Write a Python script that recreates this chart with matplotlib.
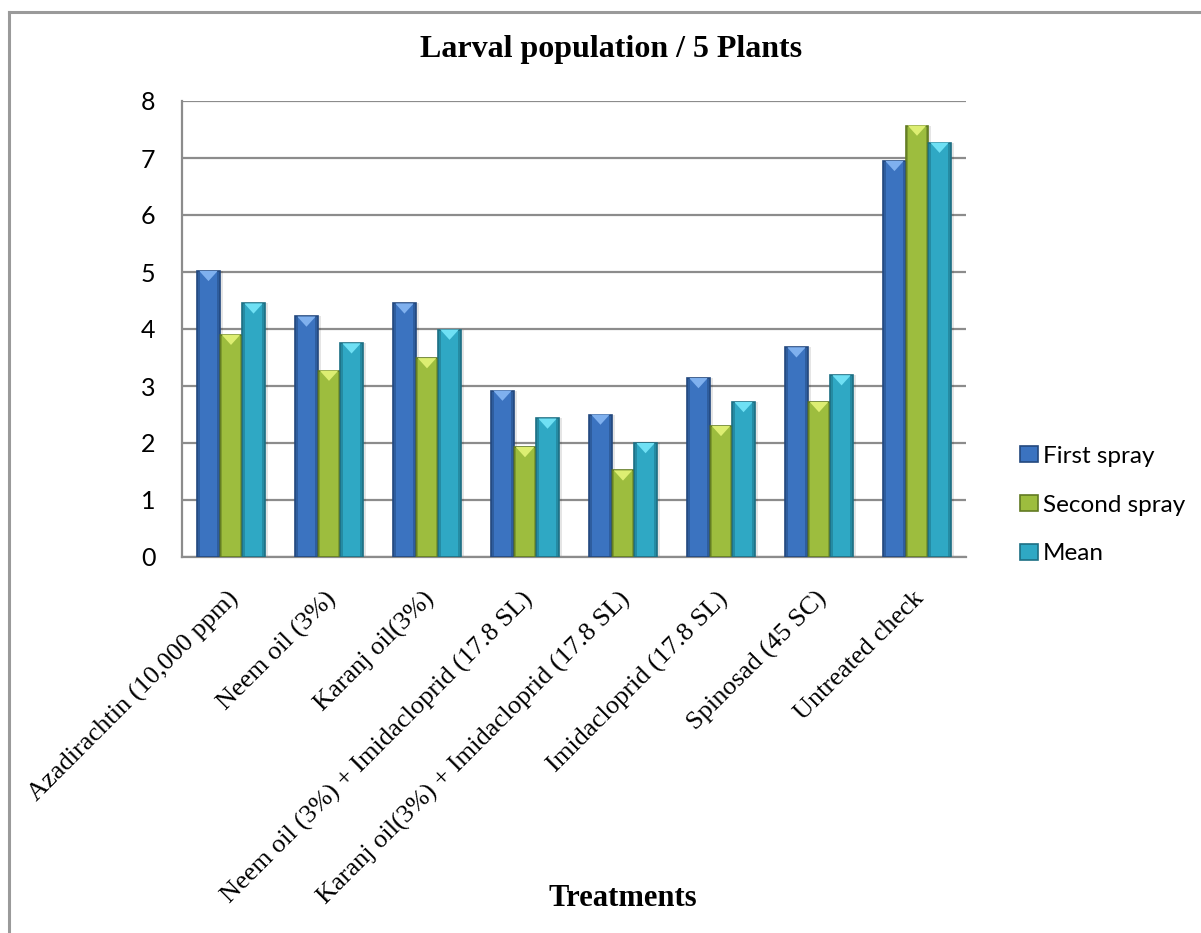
import matplotlib
matplotlib.use("Agg")
import matplotlib.pyplot as plt
import numpy as np
from matplotlib.patches import Polygon, Patch
from matplotlib.lines import Line2D
import matplotlib.transforms as mtransforms

categories = [
    "Azadirachtin (10,000 ppm)",
    "Neem oil (3%)",
    "Karanj oil(3%)",
    "Neem oil (3%) + Imidacloprid (17.8 SL)",
    "Karanj oil(3%) + Imidacloprid (17.8 SL)",
    "Imidacloprid (17.8 SL)",
    "Spinosad (45 SC)",
    "Untreated check",
]
first_spray = [5.02, 4.22, 4.45, 2.92, 2.50, 3.14, 3.68, 6.95]
second_spray = [3.90, 3.27, 3.49, 1.93, 1.52, 2.30, 2.72, 7.57]
mean_vals = [4.45, 3.75, 3.99, 2.43, 2.00, 2.72, 3.19, 7.27]
series_names = ["First spray", "Second spray", "Mean"]
yticks = [0, 1, 2, 3, 4, 5, 6, 7, 8]

face = ["#3B73C0", "#9DBD3E", "#2FA8C4"]
edge = ["#23487E", "#617A22", "#1D6F84"]
tri = ["#7FB0EE", "#DDEE72", "#6FE0F4"]

W, H = 1201, 933
fig = plt.figure(figsize=(W / 100, H / 100), dpi=100)
fig.patch.set_facecolor("white")

ax = fig.add_axes([182 / W, 1 - 557 / H, (966 - 182) / W, (557 - 101) / H])
x = np.arange(len(categories))
bw = 0.23
offsets = [-bw, 0, bw]
data = [first_spray, second_spray, mean_vals]

for k, vals in enumerate(data):
    # soft shadow
    ax.bar(x + offsets[k] + 0.03, vals, width=bw, color="#000000", alpha=0.10,
           zorder=2, linewidth=0)
    bars = ax.bar(x + offsets[k], vals, width=bw, color=face[k],
                  edgecolor=edge[k], linewidth=1.2, zorder=3)
    for b in bars:
        x0, w, h = b.get_x(), b.get_width(), b.get_height()
        d = 0.18
        poly = Polygon([[x0 + 0.02, h], [x0 + w - 0.02, h], [x0 + w / 2, h - d]],
                       closed=True, facecolor=tri[k], edgecolor="none", zorder=4)
        ax.add_patch(poly)
        ax.add_patch(Polygon([[x0, 0], [x0 + 0.025, 0], [x0 + 0.025, h], [x0, h]],
                             closed=True, facecolor=edge[k], alpha=0.5,
                             edgecolor="none", zorder=4))
        ax.add_patch(Polygon([[x0 + w - 0.025, 0], [x0 + w, 0], [x0 + w, h],
                              [x0 + w - 0.025, h]],
                             closed=True, facecolor=edge[k], alpha=0.5,
                             edgecolor="none", zorder=4))

ax.set_xlim(-0.5, len(categories) - 0.5)
ax.set_ylim(0, 8)
ax.set_yticks(yticks)
ax.set_yticklabels([str(v) for v in yticks], fontsize=18, family="Lato")
ax.tick_params(axis="y", length=0, pad=19)
ax.tick_params(axis="x", length=0, pad=22)
ax.yaxis.grid(True, color="#8C8C8C", linewidth=1.6, zorder=0)
ax.set_axisbelow(True)
for s in ["top", "right"]:
    ax.spines[s].set_visible(False)
for s in ["left", "bottom"]:
    ax.spines[s].set_color("#8C8C8C")
    ax.spines[s].set_linewidth(1.6)

ax.set_xticks(x)
ax.set_xticklabels(categories, rotation=45, ha="right", va="top",
                   rotation_mode="anchor", fontsize=19,
                   family="Liberation Serif")
off = mtransforms.ScaledTranslation(-4 / 100, 0, fig.dpi_scale_trans)
for lbl in ax.get_xticklabels():
    lbl.set_transform(lbl.get_transform() + off)

fig.text(611 / W, 1 - 49 / H, "Larval population / 5 Plants", ha="center",
         va="center", fontsize=23, fontweight="bold", family="Liberation Serif")
fig.text(623 / W, 1 - 898 / H, "Treatments", ha="center", va="center",
         fontsize=22, fontweight="bold", family="Liberation Serif")

handles = [Patch(facecolor=face[k], edgecolor=edge[k], linewidth=1.2)
           for k in range(3)]
fig.legend(handles, series_names, loc="center left",
           bbox_to_anchor=(998 / W, 1 - 505 / H), frameon=False,
           prop={"family": "Lato", "size": 17.5}, handlelength=0.75,
           handleheight=0.65, handletextpad=0.2, labelspacing=1.14)

# chart border (left and top visible)
fig.add_artist(Line2D([9 / W, 9 / W], [0, 1 - 12 / H], transform=fig.transFigure,
                      color="#9A9A9A", linewidth=2.2))
fig.add_artist(Line2D([9 / W, 1], [1 - 12 / H, 1 - 12 / H], transform=fig.transFigure,
                      color="#9A9A9A", linewidth=2.2))

fig.savefig("out.png", dpi=100)
